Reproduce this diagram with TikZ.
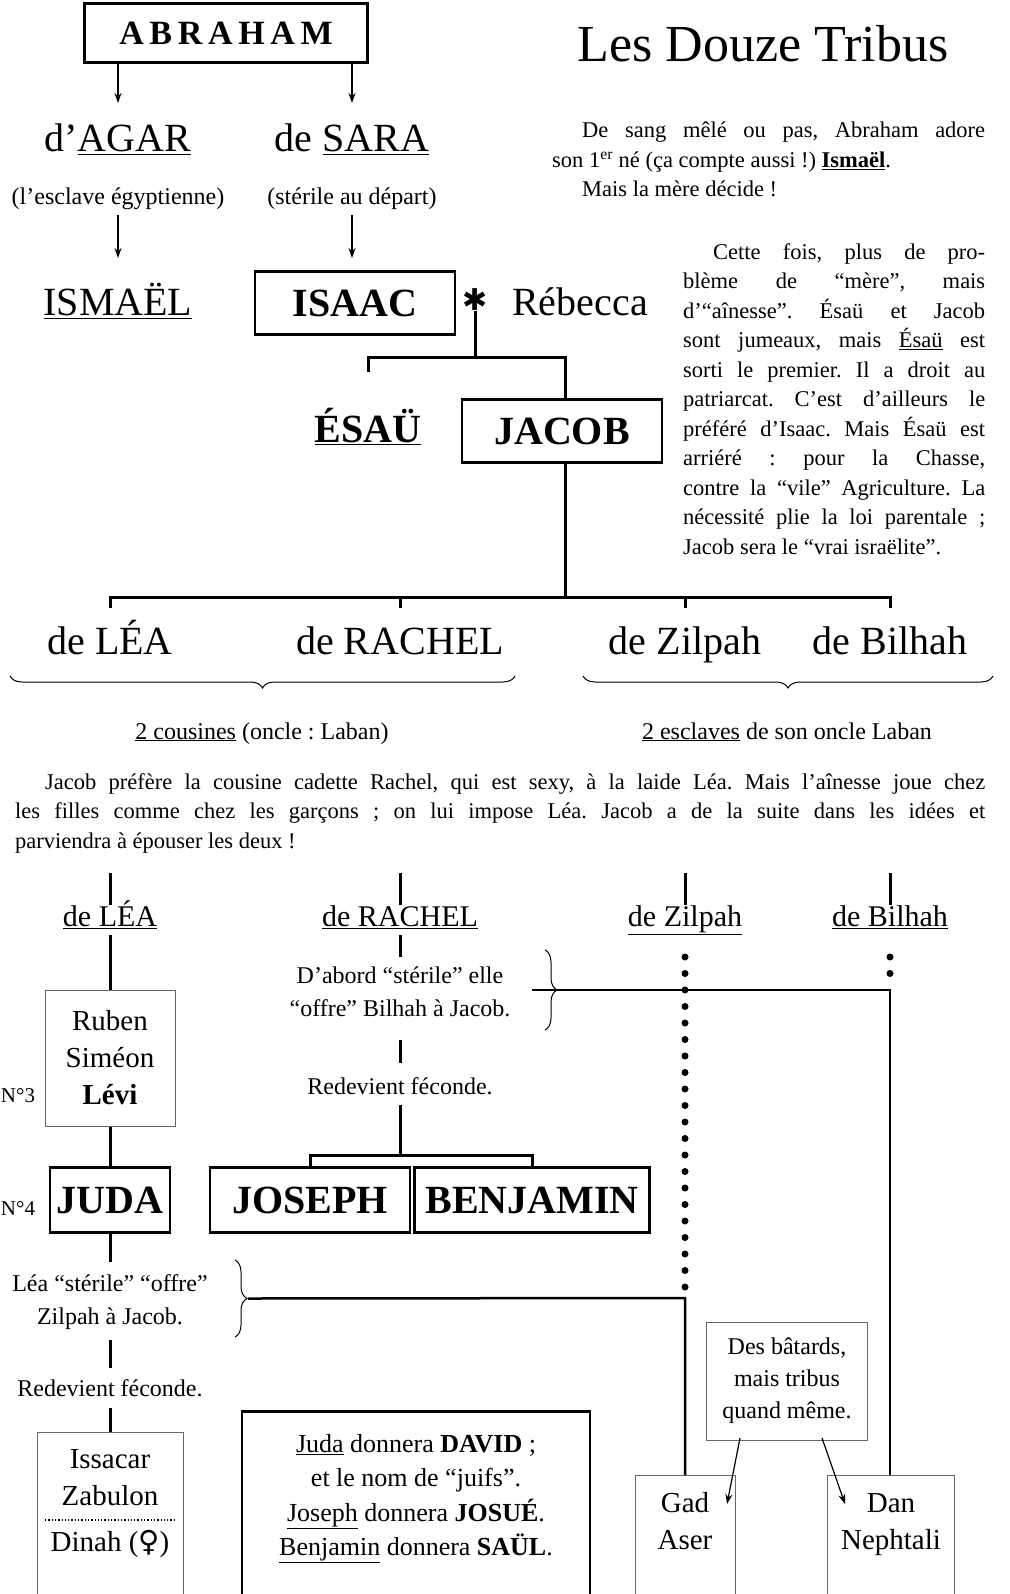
\documentclass[tikz,border=0pt]{standalone}
\usepackage{fontspec}
\setmainfont{Liberation Serif}
\newfontfamily\symfont{DejaVu Sans}
\usetikzlibrary{decorations.pathreplacing,arrows.meta}
\newcommand{\fs}[1]{\fontsize{#1}{#1}\selectfont}
\newcommand{\fsl}[2]{\fontsize{#2}{#1}\selectfont}
\frenchspacing
\tikzset{
 x=1pt,y=-1pt,
 lbl/.style={inner sep=0pt,anchor=base},
 bigbox/.style={draw,line width=2.5pt,inner sep=0pt,minimum height=63pt},
 thinbox/.style={draw=black!60,line width=1pt,inner sep=0pt},
 conn/.style={line width=3pt},
 arr/.style={line width=1.2pt,-{Stealth[length=10pt,width=7pt]}},
 dotline/.style={line width=7pt,line cap=round,dash pattern=on 0pt off 16.5pt},
 brc/.style={decorate,decoration={brace,amplitude=12pt},line width=1pt},
 para/.style={inner sep=0pt,anchor=north west,align=justify,font=\fsl{29.5}{22.5}}
}
\begin{document}
\begin{tikzpicture}
\useasboundingbox (0,0) rectangle (1009,1594);
% top
\node[draw,line width=3.5pt,minimum width=283pt,minimum height=59pt,inner sep=0pt] (abr) at (226,33) {\fs{34}\bfseries A\,B\,R\,A\,H\,A\,M};
\node[lbl] (agar) at (118,152) {\fs{40}d'\underline{AGAR}};
\node[lbl] (sara) at (352,152) {\fs{40}de \underline{SARA}};
\node[lbl] (agarx) at (118,205) {\fs{24}(l'esclave égyptienne)};
\node[lbl] (sarax) at (352,205) {\fs{24}(stérile au départ)};
\draw[arr] (118,62) -- (118,103);
\draw[arr] (352,62) -- (352,103);
\draw[arr] (118,215) -- (118,258);
\draw[arr] (352,215) -- (352,258);
\node[lbl] (ism) at (118,316) {\fs{40}\underline{ISMAËL}};
\node[bigbox,minimum width=200pt] (isaac) at (355,303) {\fs{40}\bfseries ISAAC};
\node[inner sep=0pt] (star) at (475,300) {\fs{30}\symfont ✱};
\node[lbl] (reb) at (580,316) {\fs{40}Rébecca};
\node[lbl] (esau) at (368,442) {\fs{40}\bfseries\underline{ÉSAÜ}};
\node[bigbox,minimum width=200pt] (jacob) at (562,431) {\fs{40}\bfseries JACOB};
\draw[conn] (star.south) -- (475,357);
\draw[conn] (368,372) -- (368,357) -- (565,357) -- (565,400);
\coordinate (jb) at (565,597);
\draw[conn] (jacob.south-|jb) -- (jb);
\draw[conn] (110,608) -- (110,597) -- (890,597) -- (890,608);
\draw[conn] (400,597) -- (400,608);
\draw[conn] (685,597) -- (685,608);
\node[lbl] (lea1) at (110,654) {\fs{40}de LÉA};
\node[lbl] (rac1) at (400,654) {\fs{40}de RACHEL};
\node[lbl] (zil1) at (685,654) {\fs{40}de Zilpah};
\node[lbl] (bil1) at (890,654) {\fs{40}de Bilhah};
\draw[brc] (515,676) -- (10,676) node[coordinate,pos=.5] (b1) {};
\draw[brc] (993,676) -- (583,676) node[coordinate,pos=.5] (b2) {};
\node[lbl] (cous) at (262,739) {\fs{24}\underline{2 cousines} (oncle : Laban)};
\node[lbl] (escl) at (787,739) {\fs{24}\underline{2 esclaves} de son oncle Laban};
% title & right texts
\node[lbl] (title) at (763,62) {\fs{52}Les Douze Tribus};
\node[para,text width=433pt] (p1) at (552,122) {\hspace*{30pt}De sang mêlé ou pas, Abraham adore\linebreak son 1\textsuperscript{er} né (ça compte aussi !) \textbf{\underline{Ismaël}}.\\\hspace*{30pt}Mais la mère décide !};
\node[para,text width=302pt] (p2) at (683,243) {\hspace*{30pt}Cette fois, plus de pro-\linebreak blème de “mère”, mais\linebreak d'“aînesse”. Ésaü et Jacob\linebreak sont jumeaux, mais \underline{Ésaü} est\linebreak sorti le premier. Il a droit au\linebreak patriarcat. C'est d'ailleurs le\linebreak préféré d'Isaac. Mais Ésaü est\linebreak arriéré : pour la Chasse,\linebreak contre la “vile” Agriculture. La\linebreak nécessité plie la loi parentale ;\linebreak Jacob sera le “vrai israëlite”.};
\node[para,text width=970pt] (p3) at (15,773) {\hspace*{30pt}Jacob préfère la cousine cadette Rachel, qui est sexy, à la laide Léa. Mais l'aînesse joue chez\linebreak les filles comme chez les garçons ; on lui impose Léa. Jacob a de la suite dans les idées et\linebreak parviendra à épouser les deux !};
% lower columns
\foreach \x in {110,400,685,890} \draw[conn] (\x,873) -- (\x,905);
\node[lbl] (lea2) at (110,926) {\fs{30}\underline{de LÉA}};
\node[lbl] (rac2) at (400,926) {\fs{30}\underline{de RACHEL}};
\node[lbl] (zil2) at (685,926) {\fs{30}\underline{de Zilpah}};
\node[lbl] (bil2) at (890,926) {\fs{30}\underline{de Bilhah}};
% Lea
\node[thinbox,minimum width=130pt,minimum height=136pt,align=center,font=\fsl{37}{29}] (rub) at (110,1058) {Ruben\\Siméon\\\textbf{Lévi}};
\node[lbl] (n3) at (18,1102) {\fs{21}N°3};
\node[bigbox,minimum width=120pt,minimum height=65pt] (juda) at (110,1200) {\fs{40}\bfseries JUDA};
\node[lbl] (n4) at (18,1215) {\fs{21}N°4};
\draw[conn] (110,935) -- (rub.north);
\draw[conn] (rub.south) -- (juda.north);
\draw[conn] (juda.south) -- (110,1262);
\node[lbl] (leas) at (110,1291) {\fs{24}Léa “stérile” “offre”};
\node[lbl] (leaz) at (110,1324) {\fs{24}Zilpah à Jacob.};
\draw[brc] (235,1260) -- (235,1337) node[coordinate,pos=.5,xshift=13pt] (b3) {};
\draw[conn] (110,1340) -- (110,1368);
\node[lbl] (lear) at (110,1396) {\fs{24}Redevient féconde.};
\draw[conn] (110,1408) -- (110,1432);
\node[thinbox,minimum width=146pt,minimum height=170pt,anchor=north] (iss) at (110,1432) {};
\node[lbl] (issa) at (110,1468) {\fs{29}Issacar};
\node[lbl] (zab) at (110,1505) {\fs{29}Zabulon};
\draw[line width=1.3pt,dotted] (45,1520) -- (175,1520);
\node[lbl] (din) at (110,1551) {\fs{29}Dinah ({\symfont ♀})};
% Rachel
\draw[conn] (400,935) -- (400,957);
\node[lbl] (raca) at (400,983) {\fs{24}D'abord “stérile” elle};
\node[lbl] (racb) at (400,1016) {\fs{24}“offre” Bilhah à Jacob.};
\draw[brc] (545,950) -- (545,1030) node[coordinate,pos=.5,xshift=-13pt] (b4) {};
\draw[conn] (400,1040) -- (400,1063);
\node[lbl] (racr) at (400,1094) {\fs{24}Redevient féconde.};
\node[bigbox,minimum width=200pt,minimum height=65pt] (jos) at (310,1200) {\fs{40}\bfseries JOSEPH};
\node[bigbox,minimum width=235pt,minimum height=65pt] (ben) at (532,1200) {\fs{40}\bfseries BENJAMIN};
\draw[conn] (400,1105) -- (400,1155);
\draw[conn] (310,1168) -- (310,1155) -- (532,1155) -- (532,1168);
% Zilpah / Bilhah
\node[thinbox,minimum width=100pt,minimum height=125pt,anchor=north] (gad) at (685,1475) {};
\node[lbl] (gadt) at (685,1512) {\fs{29}Gad};
\node[lbl] (aser) at (685,1549) {\fs{29}Aser};
\node[thinbox,minimum width=127pt,minimum height=125pt,anchor=north] (dan) at (891,1475) {};
\node[lbl] (dant) at (891,1512) {\fs{29}Dan};
\node[lbl] (nep) at (891,1549) {\fs{29}Nephtali};
\draw[dotline] (685,957) -- (685,1290);
\draw[dotline] (890,957) -- (890,975);
\draw[line width=2.5pt] (b4) -- (890,990) -- (dan.north-|890,0);
\draw[line width=2.5pt] (b3) -- (685,1298) -- (gad.north);
\node[thinbox,minimum width=161pt,minimum height=118pt,align=center,font=\fsl{32}{24}] (bat) at (787,1381) {Des bâtards,\\mais tribus\\quand même.};
\draw[arr] (740,1438) -- (727,1504);
\draw[arr] (822,1438) -- (845,1504);
% Juda box
\node[draw,line width=2.5pt,minimum width=348pt,minimum height=190pt,anchor=north] (note) at (416,1410) {};
\node[anchor=north,inner sep=0pt,align=center,font=\fsl{34.5}{26}] (notet) at (416,1434) {\underline{Juda} donnera \textbf{DAVID} ;\\et le nom de “juifs”.\\\underline{Joseph} donnera \textbf{JOSUÉ}.\\\underline{Benjamin} donnera \textbf{SAÜL}.};
\end{tikzpicture}
\end{document}
